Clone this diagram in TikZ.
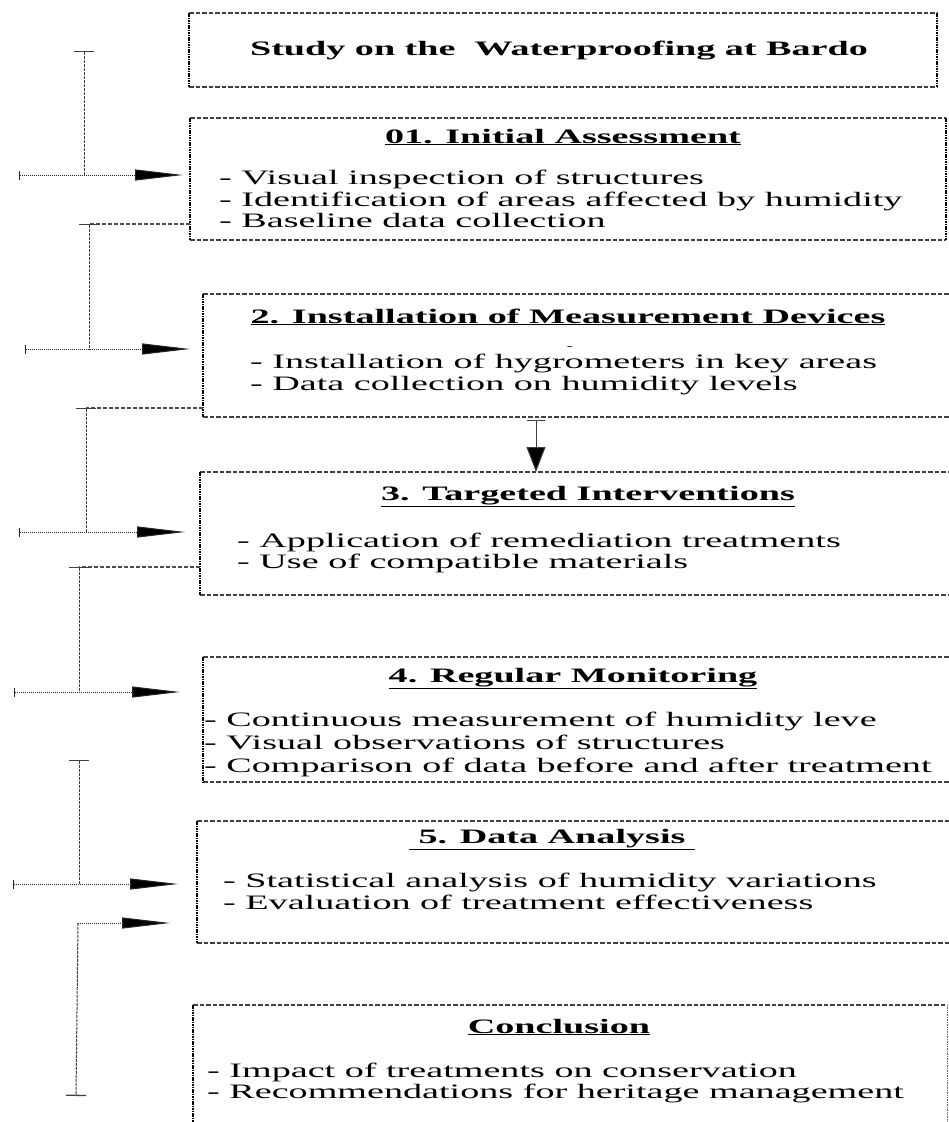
\documentclass[tikz,border=0pt]{standalone}
\usepackage{fontspec}
\setmainfont{Liberation Serif}[FakeStretch=1.86]
\usetikzlibrary{arrows.meta,fit,calc}
\tikzset{tbar/.tip={Bar[width=20pt,line width=1.3pt]}}
\begin{document}
\begin{tikzpicture}[x=1pt,y=-1pt,
  hdash/.style={draw=black!75, line width=1.4pt, dash pattern=on 4.5pt off 2pt},
  vdot/.style={draw=black, line width=1.8pt, dash pattern=on 1.5pt off 0.9pt},
  frame/.style={inner sep=0pt, outer sep=0pt},
  ttl/.style={font=\fontsize{20.5}{21.5}\selectfont\bfseries, anchor=base, inner sep=0pt},
  body/.style={font=\fontsize{20.5}{21.5}\selectfont, anchor=base west, inner sep=0pt},
  feed/.style={draw=black!85, line width=1pt, dash pattern=on 1pt off 1pt,
    {Bar[width=9pt,line width=1.3pt]}-{Triangle[length=48pt,width=11pt,fill=black]}},
  feedplain/.style={draw=black!85, line width=1pt, dash pattern=on 1pt off 1pt,
    -{Triangle[length=48pt,width=11pt,fill=black]}},
  vline/.style={draw=black!75, line width=1pt, dash pattern=on 3pt off 1pt},
  tie/.style={draw=black!70, line width=1.1pt, dash pattern=on 4pt off 2pt},
  down/.style={draw=black!75, line width=1pt,
    {Bar[width=18pt,line width=1.2pt]}-{Triangle[length=25pt,width=19pt,fill=black]}}
]
\useasboundingbox (0,0) rectangle (948,1122);
\fill[white] (0,0) rectangle (948,1122);

% boxes
\node[frame, fit={(189,13) (937,87)}] (b0) {};
\node[frame, fit={(190,118) (946,240)}] (b1) {};
\node[frame, fit={(203,294) (962,417)}] (b2) {};
\node[frame, fit={(200,472) (962,595)}] (b3) {};
\node[frame, fit={(203,657) (962,782)}] (b4) {};
\node[frame, fit={(197,821) (962,943)}] (b5) {};
\node[frame, fit={(193,1005) (947,1140)}] (b6) {};

\foreach \n in {b0,b1,b2,b3,b4,b5,b6} {
  \draw[hdash] (\n.north west) -- (\n.north east);
  \draw[hdash] (\n.south west) -- (\n.south east);
  \draw[vdot] (\n.north west) -- (\n.south west);
}
\draw[vdot] (b0.north east) -- (b0.south east);
\draw[vdot] (b1.north east) -- (b1.south east);
\draw[draw=black!60, line width=0.7pt, densely dotted] (b6.north east) -- (b6.south east);

% titles
\node[ttl] (t0) at (559,55) {Study on the~ Waterproofing at Bardo};
\node[ttl] (t1) at (563,143) {\underline{01. Initial Assessment}};
\node[ttl] (t2) at (568,323) {\underline{2. Installation of Measurement Devices}};
\node[ttl] (t3) at (588,500) {\underline{3. Targeted Interventions}};
\node[ttl] (t4) at (573,682) {\underline{4. Regular Monitoring}};
\node[ttl] (t5) at (552,843) {\underline{\ 5. Data Analysis\ }};
\node[ttl] (t6) at (559,1033) {\underline{Conclusion}};

% bodies
\node[body] (b1a) at (219,184) {- Visual inspection of structures};
\node[body] (b1b) at (219,206) {- Identification of areas affected by humidity};
\node[body] (b1c) at (219,227) {- Baseline data collection};

\node[font=\fontsize{10}{10}\selectfont, inner sep=0pt] (stray) at (570,348) {-};
\node[body] (b2a) at (250,368) {- Installation of hygrometers in key areas};
\node[body] (b2b) at (250,390) {- Data collection on humidity levels};

\node[body] (b3a) at (237,547) {- Application of remediation treatments};
\node[body] (b3b) at (237,568) {- Use of compatible materials};

\node[body] (b4a) at (204,726) {- Continuous measurement of humidity leve};
\node[body] (b4b) at (204,749) {- Visual observations of structures};
\node[body] (b4c) at (204,772) {- Comparison of data before and after treatment};

\node[body] (b5a) at (223,887) {- Statistical analysis of humidity variations};
\node[body] (b5b) at (223,909) {- Evaluation of treatment effectiveness};

\node[body] (b6a) at (207,1077) {- Impact of treatments on conservation};
\node[body] (b6b) at (207,1098) {- Recommendations for heritage management};

% left-side connectors
\coordinate (k0) at (84,51);  \coordinate (j1) at (84,175); \coordinate (s1) at (19,175);
\draw[vline, {tbar}-] (k0) -- (j1);
\draw[feed, shorten >=7pt] (s1) -- (j1 -| b1.west);

\coordinate (k1) at (89,224); \coordinate (j2) at (89,349); \coordinate (s2) at (25,349);
\draw[tie] (b1.west |- k1) -- (k1);
\draw[vline, {tbar}-] (k1) -- (j2);
\draw[feed, shorten >=13pt] (s2) -- (j2 -| b2.west);

\coordinate (k2) at (86,408); \coordinate (j3) at (86,532); \coordinate (s3) at (19,532);
\draw[tie] (b2.west |- k2) -- (k2);
\draw[vline, {tbar}-] (k2) -- (j3);
\draw[feed, shorten >=15pt] (s3) -- (j3 -| b3.west);

\coordinate (k3) at (79,567); \coordinate (j4) at (79,692); \coordinate (s4) at (14,692);
\draw[tie] (b3.west |- k3) -- (k3);
\draw[vline, {tbar}-] (k3) -- (j4);
\draw[feed, shorten >=23pt] (s4) -- (j4 -| b4.west);

\coordinate (k4) at (79,760); \coordinate (j5) at (79,884); \coordinate (s5) at (13,884);
\draw[vline, {tbar}-] (k4) -- (j5);
\draw[feed, shorten >=19pt] (s5) -- (j5 -| b5.west);

\coordinate (c6) at (78,923); \coordinate (k6) at (76,1096);
\draw[vline, -{tbar}] (c6) -- (k6);
\draw[feedplain, shorten >=27pt] (c6) -- (c6 -| b5.west);

% arrow between box 2 and box 3
\coordinate (m1) at (536,420);
\draw[down] (m1) -- (m1 |- b3.north);
\end{tikzpicture}
\end{document}
